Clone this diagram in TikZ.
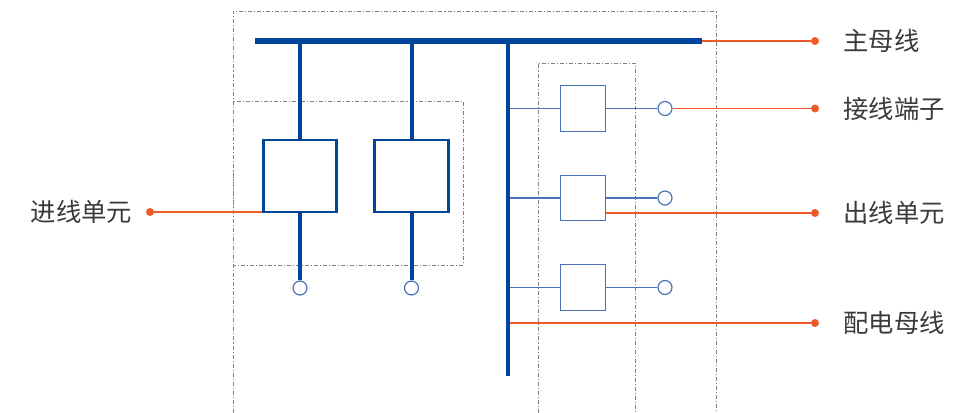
\documentclass[tikz,border=0pt]{standalone}
\usepackage{fontspec}
\setmainfont{Noto Sans CJK SC}
\usetikzlibrary{positioning}
\definecolor{busblue}{HTML}{00449B}
\definecolor{thinblue}{HTML}{4A74B8}
\definecolor{callorange}{HTML}{EE5A28}
\definecolor{frame}{HTML}{808080}
\definecolor{txt}{HTML}{3A3A3A}

\begin{document}
\begin{tikzpicture}[
                  x=0.75pt, y=-0.75pt,
                  frame/.style={draw=frame, line width=0.6pt, dash pattern=on 3pt off 1.5pt on 0.8pt off 1.5pt},
                  bus/.style={draw=busblue, line width=5.2pt},
                  feeder/.style={draw=busblue, line width=3pt},
                  inbox/.style={rectangle, draw=busblue, line width=2.2pt, fill=white, minimum width=55pt, minimum height=54pt, inner sep=0pt},
                  outbox/.style={rectangle, draw=thinblue, line width=0.9pt, fill=white, minimum width=34pt, minimum height=34pt, inner sep=0pt},
                  branch/.style={draw=thinblue, line width=1pt},
                  term/.style={circle, draw=thinblue, line width=0.9pt, fill=white, minimum size=10.5pt, inner sep=0pt},
                  callout/.style={draw=callorange, line width=1.4pt},
                  pin/.style={circle, fill=callorange, minimum size=6pt, inner sep=0pt},
                  tag/.style={text=txt, inner sep=0pt, font=\fontsize{19}{19}\selectfont}
            ]
            \useasboundingbox (0,0) rectangle (953,413);

            % Frames
            \draw [frame] (233,413) -- (233,11) -- (716,11) -- (716,413);
            \draw [frame] (233,101) rectangle (463,265);
            \draw [frame] (538,413) -- (538,63) -- (635,63) -- (635,413);

            % Bus coordinates
            \coordinate (busL) at (255,41);
            \coordinate (busR) at (702,41);
            \coordinate (dbTop) at (508,41);
            \coordinate (dbBot) at (508,376);

            % Nodes
            \node [inbox] (in1) at (300,176) {};
            \node [inbox] (in2) at (411.5,176) {};
            \node [term] (it1) at (300,288) {};
            \node [term] (it2) at (411.5,288) {};
            \node [outbox] (ob1) at (583,108.5) {};
            \node [outbox] (ob2) at (583,198) {};
            \node [outbox] (ob3) at (583,287.5) {};
            \node [term] (ot1) at (665,108.5) {};
            \node [term] (ot2) at (665,198) {};
            \node [term] (ot3) at (665,287.5) {};

            % Pins
            \node [pin] (pinMain) at (815,41) {};
            \node [pin] (pinTerm) at (815,108.5) {};
            \node [pin] (pinOut) at (815,213) {};
            \node [pin] (pinDist) at (815,323) {};
            \node [pin] (pinIn) at (150,212) {};

            % Callouts
            \path [callout] (busR) -- (pinMain);
            \path [callout] (ot1.east) -- (pinTerm);
            \path [callout] (ob2.south east |- pinOut) -- (pinOut);
            \path [callout] (dbTop |- pinDist) -- (pinDist);
            \path [callout] (pinIn) -- (pinIn -| in1.west);

            % Edges
            \path [feeder] (in1.north |- busL) -- (in1.north);
            \path [feeder] (in2.north |- busL) -- (in2.north);
            \path [feeder] (in1.south) -- (it1.north);
            \path [feeder] (in2.south) -- (it2.north);
            \foreach \k in {1,2,3} {
                  \path [branch] (ob\k.west -| dbTop) -- (ob\k.west);
                  \path [branch] (ob\k.east) -- (ot\k.west);
            }
            \path [draw=busblue, line width=3.4pt] (dbTop) -- (dbBot);
            \path [bus] (busL) -- (busR);
            \node [inbox] at (in1) {};
            \node [inbox] at (in2) {};

            % Labels
            \node [tag, right=18pt of pinMain] {主母线};
            \node [tag, right=18pt of pinTerm] {接线端子};
            \node [tag, right=18pt of pinOut] {出线单元};
            \node [tag, right=18pt of pinDist] {配电母线};
            \node [tag, left=10pt of pinIn] {进线单元};
      \end{tikzpicture}
\end{document}
